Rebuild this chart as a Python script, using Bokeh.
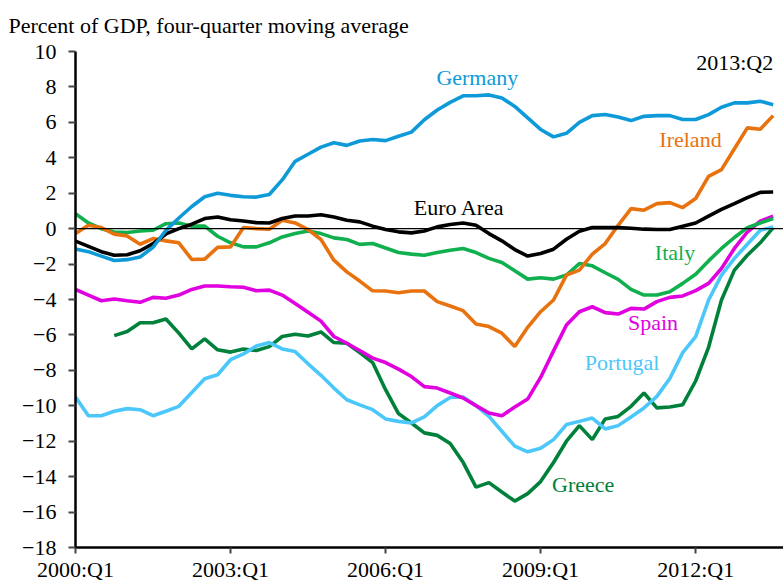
from bokeh.plotting import figure
from bokeh.models import Range1d, FixedTicker, Span, Label
from bokeh.embed import file_html
from bokeh.resources import INLINE

NaN = float("nan")

# Quarterly index 0 = 2000:Q1
quarters = [f"{2000 + i // 4}:Q{i % 4 + 1}" for i in range(55)]
tick_quarters = ["2000:Q1", "2003:Q1", "2006:Q1", "2009:Q1", "2012:Q1"]
y_ticks = list(range(-18, 11, 2))

germany = [-1.15, -1.3, -1.55, -1.8, -1.75, -1.6, -1.05, -0.1, 0.6, 1.25, 1.8, 2.0, 1.88, 1.8, 1.78,
           1.93, 2.75, 3.8, 4.2, 4.6, 4.85, 4.7, 4.95, 5.03, 4.97, 5.22, 5.45, 6.15, 6.7, 7.13,
           7.5, 7.5, 7.55, 7.38, 6.9, 6.25, 5.6, 5.18, 5.38, 6.0, 6.38, 6.44, 6.3, 6.1, 6.34,
           6.38, 6.38, 6.16, 6.16, 6.44, 6.85, 7.1, 7.1, 7.19, 7.0]
euro_area = [-0.7, -1.0, -1.3, -1.5, -1.47, -1.25, -0.85, -0.3, 0.0, 0.25, 0.57, 0.66, 0.5, 0.43, 0.34,
             0.32, 0.57, 0.71, 0.71, 0.78, 0.66, 0.47, 0.38, 0.14, -0.05, -0.18, -0.24, -0.13, 0.1, 0.23,
             0.32, 0.19, -0.28, -0.69, -1.18, -1.55, -1.4, -1.16, -0.6, -0.15, 0.06, 0.06, 0.06, 0.02, -0.03,
             -0.05, -0.05, 0.14, 0.32, 0.71, 1.09, 1.41, 1.75, 2.05, 2.07]
ireland = [-0.28, 0.19, 0.06, -0.31, -0.41, -0.88, -0.56, -0.69, -0.8, -1.74, -1.72, -1.06, -1.03, 0.06, 0.0,
           -0.03, 0.47, 0.32, -0.05, -0.61, -1.78, -2.44, -2.96, -3.51, -3.52, -3.62, -3.52, -3.52, -4.12, -4.37,
           -4.63, -5.38, -5.53, -5.9, -6.66, -5.57, -4.69, -4.03, -2.62, -2.34, -1.44, -0.84, 0.19, 1.13, 1.04,
           1.41, 1.47, 1.19, 1.7, 2.95, 3.33, 4.51, 5.69, 5.61, 6.38]
italy = [0.85, 0.32, 0.0, -0.19, -0.22, -0.13, -0.09, 0.28, 0.32, 0.14, 0.14, -0.43, -0.8, -1.03, -1.03,
         -0.8, -0.47, -0.28, -0.13, -0.28, -0.52, -0.61, -0.89, -0.84, -1.09, -1.35, -1.44, -1.5, -1.35, -1.22,
         -1.12, -1.35, -1.68, -1.91, -2.38, -2.85, -2.77, -2.85, -2.62, -1.97, -2.1, -2.49, -2.86, -3.43, -3.75,
         -3.75, -3.56, -3.09, -2.57, -1.82, -1.12, -0.5, 0.06, 0.32, 0.57]
spain = [-3.43, -3.75, -4.07, -3.97, -4.07, -4.16, -3.88, -3.93, -3.75, -3.43, -3.24, -3.24, -3.28, -3.31, -3.51,
         -3.47, -3.75, -4.22, -4.72, -5.22, -6.09, -6.47, -6.88, -7.31, -7.56, -7.93, -8.35, -8.92, -9.0, -9.28,
         -9.56, -9.99, -10.41, -10.56, -10.07, -9.62, -8.4, -6.9, -5.44, -4.69, -4.41, -4.74, -4.82, -4.5, -4.54,
         -4.12, -3.88, -3.8, -3.5, -3.09, -2.25, -1.12, -0.19, 0.42, 0.7]
greece = [NaN, NaN, NaN, -6.04, -5.81, -5.31, -5.31, -5.1, -5.9, -6.79, -6.22, -6.84, -6.97, -6.8, -6.88,
          -6.66, -6.09, -5.96, -6.06, -5.83, -6.43, -6.47, -7.0, -7.56, -9.09, -10.44, -10.97, -11.53, -11.67, -12.13,
          -13.19, -14.59, -14.34, -14.87, -15.38, -14.96, -14.28, -13.2, -12.0, -11.12, -11.91, -10.74, -10.6, -10.03, -9.28,
          -10.12, -10.07, -9.94, -8.6, -6.7, -4.03, -2.34, -1.5, -0.8, 0.06]
portugal = [-9.5, -10.56, -10.56, -10.31, -10.16, -10.22, -10.56, -10.31, -10.03, -9.25, -8.47, -8.25, -7.4, -7.07, -6.62,
            -6.43, -6.79, -6.94, -7.63, -8.28, -9.0, -9.66, -9.95, -10.22, -10.74, -10.88, -10.97, -10.63, -9.99, -9.53,
            -9.5, -9.99, -10.6, -11.44, -12.28, -12.6, -12.4, -11.91, -11.06, -10.88, -10.69, -11.31, -11.12, -10.63, -10.12,
            -9.47, -8.46, -7.0, -6.1, -4.03, -2.62, -1.68, -0.88, -0.09, 0.1]

x = list(range(len(quarters)))

series = [
    ("Greece", greece, "#00813B"),
    ("Portugal", portugal, "#4CC7FA"),
    ("Spain", spain, "#E000E0"),
    ("Italy", italy, "#10B04E"),
    ("Ireland", ireland, "#E8720E"),
    ("Euro Area", euro_area, "#000000"),
    ("Germany", germany, "#0E9AD9"),
]

# label anchor (quarter index, value near text baseline)
label_pos = {
    "Germany": (31.1, 8.55),
    "Euro Area": (29.7, 1.2),
    "Ireland": (47.6, 5.02),
    "Italy": (46.4, -1.35),
    "Spain": (44.7, -5.3),
    "Portugal": (42.3, -7.55),
    "Greece": (39.3, -14.45),
}

FONT = "Liberation Serif"

p = figure(width=783, height=584, output_backend="svg", toolbar_location=None,
           x_range=Range1d(0, 54.8), y_range=Range1d(-18, 10),
           min_border_left=75, min_border_top=51, min_border_right=0, min_border_bottom=36,
           title="Percent of GDP, four-quarter moving average")
p.outline_line_color = None
p.xgrid.visible = False
p.ygrid.visible = False
p.background_fill_color = "white"
p.border_fill_color = "white"

p.title.align = "left"
p.title.vertical_align = "top"
p.title.offset = -67
p.title.standoff = 24
p.title.text_font = FONT
p.title.text_font_size = "22px"
p.title.text_font_style = "normal"
p.title.text_color = "black"

p.add_layout(Span(location=0, dimension="width", line_color="black", line_width=1.2))

for name, vals, col in series:
    p.line(x, vals, line_color=col, line_width=3.6)

for name, vals, col in series:
    lx, ly = label_pos[name]
    p.add_layout(Label(x=lx, y=ly, text=name, text_align="center", text_baseline="alphabetic",
                       text_font=FONT, text_font_size="22px", text_color=col))

p.add_layout(Label(x=54.0, y=9.36, text="2013:Q2", text_align="right", text_baseline="alphabetic",
                   text_font=FONT, text_font_size="22px", text_color="black"))

xt = [quarters.index(q) for q in tick_quarters]
p.xaxis.ticker = FixedTicker(ticks=xt)
p.xaxis.major_label_overrides = {i: q for i, q in zip(xt, tick_quarters)}
p.yaxis.ticker = FixedTicker(ticks=y_ticks)

for ax in (p.xaxis[0], p.yaxis[0]):
    ax.axis_line_color = "black"
    ax.axis_line_width = 2.5
    ax.major_tick_line_color = "#444444"
    ax.major_tick_line_width = 2
    ax.major_tick_in = 0
    ax.major_tick_out = 7
    ax.minor_tick_line_color = None
    ax.major_label_text_font = FONT
    ax.major_label_text_font_size = "22px"
    ax.major_label_text_color = "black"
p.xaxis.major_tick_out = 6
p.xaxis.major_label_standoff = 3
p.yaxis.major_label_standoff = 12

open("out.html", "w").write(file_html(p, INLINE))
